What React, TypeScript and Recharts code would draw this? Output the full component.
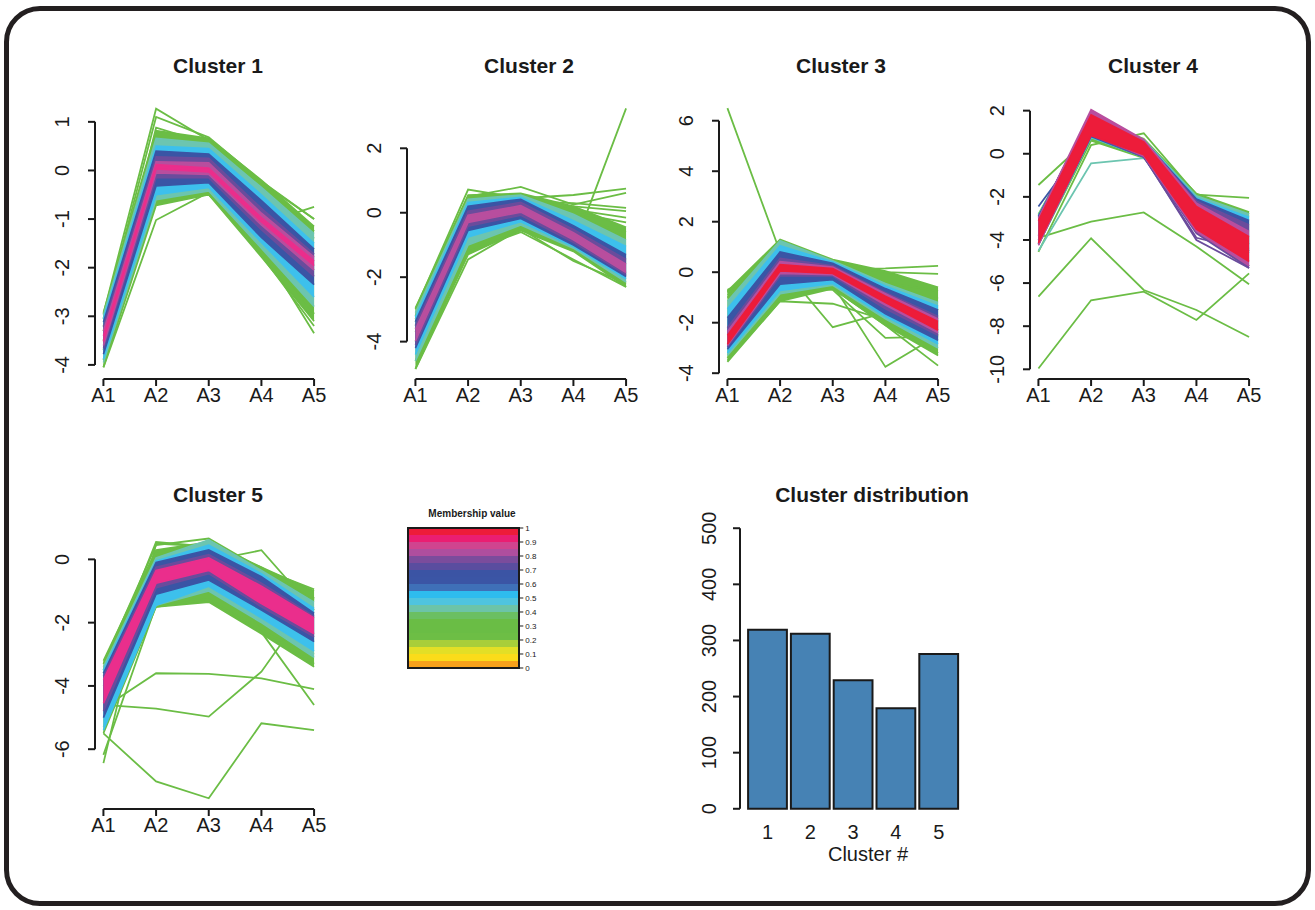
import React from 'react';
import { Area, Bar, BarChart, ComposedChart, ReferenceLine, XAxis, YAxis } from 'recharts';

const FONT = '"Liberation Sans", Arial, Helvetica, sans-serif';
const INK = '#1a1a1a';

// profile axes
const AXIS_POS = [1, 2, 3, 4, 5];
const AXIS_NAMES = ['A1', 'A2', 'A3', 'A4', 'A5'];

// membership colour classes, drawn low -> high
const LEVELS = ['green', 'teal', 'cyan', 'blue', 'purple', 'magenta', 'pink', 'red'];
const LEVEL_COLOR: Record<string, string> = {
  green: '#6BBD45',
  teal: '#6CC5B0',
  cyan: '#3DC0EC',
  blue: '#3A55A5',
  purple: '#6A4C9C',
  magenta: '#B84E9E',
  pink: '#EA2E8C',
  red: '#ED1C3A',
};

type Band = [string, number[], number[]];
type Trace = [string, number[]];

// cluster 1
const c1Bands: Band[] = [
  ['green', [-4.05, -0.72, -0.5, -1.78, -3.1], [-2.92, 0.82, 0.66, -0.2, -1.15]],
  ['teal', [-3.95, -0.6, -0.42, -1.6, -2.8], [-2.98, 0.66, 0.56, -0.35, -1.3]],
  ['cyan', [-3.88, -0.5, -0.35, -1.48, -2.6], [-3.05, 0.5, 0.45, -0.5, -1.5]],
  ['blue', [-3.78, -0.32, -0.25, -1.38, -2.35], [-3.12, 0.4, 0.34, -0.62, -1.62]],
  ['purple', [-3.66, -0.15, -0.15, -1.22, -2.18], [-3.22, 0.28, 0.25, -0.78, -1.72]],
  ['magenta', [-3.6, -0.05, -0.08, -1.12, -2.05], [-3.3, 0.18, 0.16, -0.88, -1.78]],
  ['pink', [-3.52, 0.03, -0.03, -1.06, -1.96], [-3.4, 0.12, 0.05, -0.97, -1.86]],
];
const c1Traces: Trace[] = [
  ['green', [-2.95, 1.27, 0.62, -0.3, -1.25]],
  ['green', [-3.05, 1.1, 0.68, -0.22, -1.0]],
  ['green', [-3.5, 0.88, 0.55, -0.5, -1.4]],
  ['green', [-3.3, 0.7, 0.45, -1.1, -0.75]],
  ['green', [-4.05, -1.02, -0.45, -1.6, -3.35]],
  ['green', [-3.9, -0.65, -0.38, -1.75, -3.2]],
  ['green', [-3.7, -0.55, -0.5, -1.5, -2.95]],
  ['green', [-3.2, -0.3, 0.6, -0.25, -1.0]],
];

// cluster 2
const c2Bands: Band[] = [
  ['green', [-4.85, -1.3, -0.55, -1.2, -2.3], [-2.95, 0.55, 0.6, 0.2, -0.45]],
  ['teal', [-4.6, -1.0, -0.38, -1.1, -2.15], [-3.1, 0.42, 0.55, -0.05, -0.85]],
  ['cyan', [-4.4, -0.75, -0.28, -1.05, -2.05], [-3.25, 0.32, 0.48, -0.25, -1.05]],
  ['blue', [-4.2, -0.55, -0.18, -1.0, -1.98], [-3.38, 0.2, 0.42, -0.4, -1.3]],
  ['purple', [-4.1, -0.42, -0.08, -0.92, -1.92], [-3.5, 0.05, 0.32, -0.52, -1.45]],
  ['magenta', [-3.98, -0.3, 0.02, -0.84, -1.86], [-3.62, -0.08, 0.22, -0.62, -1.6]],
];
const c2Traces: Trace[] = [
  ['green', [-4.0, -0.5, 0.2, -1.1, 3.24]],
  ['green', [-3.0, 0.72, 0.45, 0.55, 0.75]],
  ['green', [-3.2, 0.5, 0.8, 0.25, 0.62]],
  ['green', [-4.85, -1.45, -0.5, -1.5, -2.2]],
  ['green', [-4.6, -1.2, -0.6, -1.45, -2.3]],
  ['green', [-3.3, 0.3, 0.35, 0.3, 0.15]],
  ['green', [-3.6, -0.2, 0.1, 0.2, 0.05]],
  ['green', [-3.4, 0.1, 0.2, 0.0, -0.3]],
  ['green', [-3.5, 0.0, 0.3, 0.1, -0.15]],
  ['green', [-3.7, -0.4, 0.0, -0.2, -0.6]],
];

// cluster 3
const c3Bands: Band[] = [
  ['green', [-3.5, -1.15, -0.65, -2.1, -3.3], [-0.75, 1.3, 0.5, 0.05, -0.6]],
  ['teal', [-3.3, -0.85, -0.52, -1.85, -3.0], [-1.15, 1.25, 0.45, -0.45, -1.2]],
  ['cyan', [-3.2, -0.72, -0.45, -1.75, -2.85], [-1.45, 1.05, 0.4, -0.55, -1.35]],
  ['blue', [-3.05, -0.48, -0.3, -1.65, -2.7], [-1.8, 0.8, 0.35, -0.65, -1.5]],
  ['purple', [-2.95, -0.15, -0.15, -1.45, -2.5], [-2.2, 0.55, 0.25, -0.8, -1.75]],
  ['magenta', [-2.9, -0.05, -0.1, -1.3, -2.4], [-2.35, 0.42, 0.2, -0.85, -1.85]],
  ['red', [-2.85, 0.05, -0.05, -1.2, -2.3], [-2.5, 0.3, 0.15, -0.95, -1.95]],
];
const c3Traces: Trace[] = [
  ['green', [6.5, 0.8, 0.4, -0.5, -1.5]],
  ['green', [-0.7, 0.3, -2.18, -1.6, -1.0]],
  ['green', [-1.0, -0.8, -0.5, -3.75, -2.5]],
  ['green', [-0.8, 0.2, 0.1, 0.15, 0.25]],
  ['green', [-1.0, 0.5, 0.3, 0.0, -0.07]],
  ['green', [-3.4, -0.6, -0.7, -2.6, -2.55]],
  ['green', [-0.75, -0.9, -0.65, -2.1, -3.7]],
  ['green', [-3.55, -1.15, -1.25, -1.9, -3.2]],
  ['green', [-0.9, 0.1, 0.05, -0.4, -0.75]],
];

// cluster 4
const c4Bands: Band[] = [
  ['green', [-4.2, 0.6, -0.2, -3.0, -4.2], [-2.8, 1.6, 0.7, -1.85, -2.7]],
  ['teal', [-4.2, 0.75, -0.15, -3.1, -4.4], [-2.85, 1.7, 0.65, -1.95, -2.8]],
  ['cyan', [-4.2, 0.78, -0.15, -3.2, -4.6], [-2.9, 1.75, 0.62, -2.05, -2.95]],
  ['blue', [-4.2, 0.8, -0.15, -3.5, -5.2], [-2.9, 1.8, 0.6, -2.1, -3.1]],
  ['purple', [-4.2, 0.85, -0.15, -3.7, -5.3], [-2.95, 1.9, 0.6, -2.2, -3.3]],
  ['magenta', [-4.25, 0.9, -0.1, -3.6, -5.2], [-3.0, 2.05, 0.65, -2.3, -3.6]],
  ['red', [-4.15, 0.85, -0.05, -3.5, -5.0], [-3.1, 1.8, 0.55, -2.45, -3.85]],
];
const c4Traces: Trace[] = [
  ['green', [-1.45, 0.8, 0.3, -2.2, -2.8]],
  ['green', [-4.55, 0.4, 0.95, -1.9, -2.05]],
  ['teal', [-4.5, -0.44, -0.2, -2.3, -2.9]],
  ['blue', [-2.45, 0.85, -0.1, -3.5, -4.5]],
  ['purple', [-3.8, 0.9, -0.1, -4.0, -5.3]],
  ['purple', [-4.0, 1.0, -0.15, -3.9, -4.5]],
  ['green', [-3.9, -3.15, -2.72, -4.3, -6.05]],
  ['green', [-6.63, -3.92, -6.32, -7.25, -8.5]],
  ['green', [-9.96, -6.8, -6.4, -7.71, -5.55]],
];

// cluster 5
const c5Bands: Band[] = [
  ['green', [-5.5, -1.5, -1.35, -2.35, -3.4], [-3.2, 0.3, 0.55, -0.25, -1.0]],
  ['teal', [-5.3, -1.45, -1.0, -2.0, -3.1], [-3.4, 0.05, 0.62, -0.35, -1.35]],
  ['cyan', [-5.4, -1.45, -0.85, -1.85, -2.9], [-3.5, -0.05, 0.45, -0.45, -1.55]],
  ['blue', [-5.0, -1.1, -0.65, -1.6, -2.6], [-3.6, -0.1, 0.3, -0.55, -1.7]],
  ['purple', [-4.8, -0.9, -0.45, -1.5, -2.45], [-3.7, -0.25, 0.15, -0.75, -1.8]],
  ['pink', [-4.55, -0.75, -0.35, -1.4, -2.35], [-3.8, -0.35, 0.05, -0.85, -1.85]],
];
const c5Traces: Trace[] = [
  ['green', [-4.7, -3.6, -3.62, -3.76, -4.1]],
  ['green', [-4.6, -4.72, -4.97, -3.55, -1.2]],
  ['green', [-5.5, -7.02, -7.55, -5.18, -5.4]],
  ['green', [-6.44, 0.5, 0.4, -2.3, -4.6]],
  ['green', [-6.18, -1.45, -1.3, -2.2, -3.3]],
  ['green', [-3.5, 0.2, -0.05, 0.29, -1.6]],
  ['green', [-3.3, 0.45, 0.66, -0.3, -0.95]],
  ['green', [-3.6, 0.55, 0.4, -0.25, -1.3]],
  ['green', [-4.0, -1.5, -1.25, -2.3, -3.0]],
];

// cluster distribution
const CLUSTER_IDS = [1, 2, 3, 4, 5];
const CLUSTER_SIZES = [319, 312, 229, 179, 276];
const COUNT_TICKS = [0, 100, 200, 300, 400, 500];

// membership colour key, bottom (0) to top (1), 0.05 per step
const MEMBERSHIP_COLORS = [
  '#F8A11B', '#FBDC1A', '#E3DF26', '#A8CE3A', '#6DBE45',
  '#6ABD45', '#6ABD45', '#6BBF62', '#6CC4A8', '#4FC4DF',
  '#2EBCEE', '#3F70B8', '#3B55A5', '#3B54A4', '#5A4D9F',
  '#7B4C9C', '#AF4E9E', '#D0448F', '#EA1E72', '#ED1C3A',
];
const MEMBERSHIP_STEP = 0.05;
const MEMBERSHIP_TICKS = [0, 0.1, 0.2, 0.3, 0.4, 0.5, 0.6, 0.7, 0.8, 0.9, 1];

const PLOT_W = 227.5;
const PLOT_H = 280;
const Y_AXIS_W = 70;
const X_AXIS_H = 40;
const PAD_TOP = 20;

function YTick(props: any) {
  const { x, y, payload, shift = 17, size = 20 } = props;
  const bx = x - shift;
  return (
    <text x={bx} y={y} transform={`rotate(-90 ${bx} ${y})`} textAnchor="middle" fontSize={size} fontFamily={FONT} fill={INK}>
      {String(payload.value)}
    </text>
  );
}

function XTick(props: any) {
  const { x, y, payload, names, size = 20 } = props;
  const label = names ? names[payload.value - 1] : String(payload.value);
  return (
    <text x={x} y={y} dy="0.71em" textAnchor="middle" fontSize={size} fontFamily={FONT} fill={INK}>
      {label}
    </text>
  );
}

interface PanelProps {
  left: number;
  top: number;
  domain: [number, number];
  ticks: number[];
  bands: Band[];
  traces: Trace[];
}

function ProfilePanel({ left, top, domain, ticks, bands, traces }: PanelProps) {
  const data = AXIS_POS.map((x, i) => {
    const row: Record<string, any> = { x };
    bands.forEach((b, k) => {
      row[`b${k}`] = [b[1][i], b[2][i]];
    });
    traces.forEach((t, k) => {
      row[`t${k}`] = t[1][i];
    });
    return row;
  });

  const layers: React.ReactNode[] = [];
  LEVELS.forEach((level) => {
    bands.forEach((b, k) => {
      if (b[0] !== level) return;
      layers.push(
        <Area
          key={`b${k}`}
          dataKey={`b${k}`}
          type="linear"
          stroke={LEVEL_COLOR[level]}
          strokeWidth={1.6}
          fill={LEVEL_COLOR[level]}
          fillOpacity={1}
          dot={false}
          activeDot={false}
          isAnimationActive={false}
        />
      );
    });
    traces.forEach((t, k) => {
      if (t[0] !== level) return;
      layers.push(
        <Area
          key={`t${k}`}
          dataKey={`t${k}`}
          type="linear"
          stroke={LEVEL_COLOR[level]}
          strokeWidth={1.8}
          fill="none"
          dot={false}
          activeDot={false}
          isAnimationActive={false}
        />
      );
    });
  });

  const xDomain: [number, number] = [0.84, 5.16];

  return (
    <div style={{ position: 'absolute', left: left - Y_AXIS_W, top: top - PAD_TOP }}>
      <ComposedChart
        width={Y_AXIS_W + PLOT_W + 10}
        height={PAD_TOP + PLOT_H + X_AXIS_H}
        data={data}
        margin={{ top: PAD_TOP, right: 10, bottom: 0, left: 0 }}
      >
        <XAxis
          type="number"
          dataKey="x"
          domain={xDomain}
          allowDataOverflow
          ticks={AXIS_POS}
          interval={0}
          axisLine={false}
          tickLine={{ stroke: INK, strokeWidth: 2 }}
          tickSize={7}
          tickMargin={2}
          height={X_AXIS_H}
          tick={<XTick names={AXIS_NAMES} />}
        />
        <YAxis
          type="number"
          domain={domain}
          allowDataOverflow
          ticks={ticks}
          interval={0}
          axisLine={false}
          tickLine={{ stroke: INK, strokeWidth: 2 }}
          tickSize={7}
          tickMargin={2}
          width={Y_AXIS_W}
          tick={<YTick shift={17} />}
        />
        {layers}
        <ReferenceLine
          segment={[{ x: xDomain[0], y: ticks[0] }, { x: xDomain[0], y: ticks[ticks.length - 1] }]}
          stroke={INK}
          strokeWidth={2}
          ifOverflow="visible"
        />
        <ReferenceLine
          segment={[{ x: AXIS_POS[0], y: domain[0] }, { x: AXIS_POS[AXIS_POS.length - 1], y: domain[0] }]}
          stroke={INK}
          strokeWidth={2}
          ifOverflow="visible"
        />
      </ComposedChart>
    </div>
  );
}

function DistributionChart() {
  const data = CLUSTER_IDS.map((id, i) => ({ id, count: CLUSTER_SIZES[i] }));
  const plotW = 260;
  const plotH = 303;
  const xDomain: [number, number] = [0.3575, 6.432];
  return (
    <div style={{ position: 'absolute', left: 740 - Y_AXIS_W, top: 516.5 - PAD_TOP }}>
      <BarChart
        width={Y_AXIS_W + plotW + 10}
        height={PAD_TOP + plotH + 50}
        data={data}
        margin={{ top: PAD_TOP, right: 10, bottom: 0, left: 0 }}
      >
        <XAxis
          type="number"
          dataKey="id"
          domain={xDomain}
          allowDataOverflow
          ticks={CLUSTER_IDS}
          interval={0}
          axisLine={false}
          tickLine={false}
          tickSize={0}
          tickMargin={5}
          height={50}
          tick={<XTick />}
        />
        <YAxis
          type="number"
          domain={[-20, 520]}
          allowDataOverflow
          ticks={COUNT_TICKS}
          interval={0}
          axisLine={false}
          tickLine={{ stroke: INK, strokeWidth: 2 }}
          tickSize={7}
          tickMargin={2}
          width={Y_AXIS_W}
          tick={<YTick shift={15} />}
        />
        <Bar dataKey="count" barSize={38.8} fill="#4682B4" stroke={INK} strokeWidth={2} isAnimationActive={false} />
        <ReferenceLine
          segment={[{ x: xDomain[0], y: COUNT_TICKS[0] }, { x: xDomain[0], y: COUNT_TICKS[COUNT_TICKS.length - 1] }]}
          stroke={INK}
          strokeWidth={2}
          ifOverflow="visible"
        />
      </BarChart>
    </div>
  );
}

function MembershipKey() {
  const row: Record<string, any> = { name: 'm' };
  MEMBERSHIP_COLORS.forEach((_, k) => {
    row[`s${k}`] = MEMBERSHIP_STEP;
  });
  const left = 407.7;
  const top = 528.3;
  const w = 111.3;
  const h = 140;
  const pad = 8;
  return (
    <>
      <div style={{ position: 'absolute', left, top: top - pad }}>
        <BarChart
          width={w + 30}
          height={h + 2 * pad}
          data={[row]}
          margin={{ top: pad, right: 0, bottom: pad, left: 0 }}
          barCategoryGap={0}
        >
          <XAxis dataKey="name" hide />
          <YAxis
            orientation="right"
            type="number"
            domain={[0, 1]}
            ticks={MEMBERSHIP_TICKS}
            interval={0}
            axisLine={false}
            tickLine={{ stroke: INK, strokeWidth: 1 }}
            tickSize={4}
            tickMargin={2}
            width={30}
            tick={{ fontSize: 8, fontFamily: FONT, fill: INK, textAnchor: 'start' }}
          />
          {MEMBERSHIP_COLORS.map((c, k) => (
            <Bar key={k} dataKey={`s${k}`} stackId="m" fill={c} isAnimationActive={false} />
          ))}
        </BarChart>
      </div>
      <div
        style={{
          position: 'absolute',
          left: left - 1,
          top: top - 1,
          width: w + 2,
          height: h + 2,
          border: `2px solid ${INK}`,
          boxSizing: 'border-box',
          pointerEvents: 'none',
        }}
      />
    </>
  );
}

export default function App() {
  return (
    <div style={{ position: 'absolute', left: 0, top: 0, width: 1315, height: 910, background: '#fff', fontFamily: FONT }}>
      <div
        style={{
          position: 'absolute',
          left: 4,
          top: 6,
          width: 1307,
          height: 900,
          border: '5px solid #231F20',
          borderRadius: 36,
          boxSizing: 'border-box',
        }}
      />
      <ProfilePanel left={94.8} top={99} domain={[-4.29, 1.47]} ticks={[-4, -3, -2, -1, 0, 1]} bands={c1Bands} traces={c1Traces} />
      <ProfilePanel left={406.7} top={99} domain={[-5.16, 3.53]} ticks={[-4, -2, 0, 2]} bands={c2Bands} traces={c2Traces} />
      <ProfilePanel left={719.1} top={99} domain={[-4.23, 6.86]} ticks={[-4, -2, 0, 2, 4, 6]} bands={c3Bands} traces={c3Traces} />
      <ProfilePanel left={1030.1} top={99} domain={[-10.45, 2.54]} ticks={[-10, -8, -6, -4, -2, 0, 2]} bands={c4Bands} traces={c4Traces} />
      <ProfilePanel left={94.8} top={529} domain={[-7.89, 0.96]} ticks={[-6, -4, -2, 0]} bands={c5Bands} traces={c5Traces} />
      <MembershipKey />
      <DistributionChart />
      <svg width={1315} height={910} style={{ position: 'absolute', left: 0, top: 0, pointerEvents: 'none' }}>
        <g fontFamily={FONT} fill={INK} fontWeight="bold" textAnchor="middle" fontSize={21}>
          <text x={218} y={73}>Cluster 1</text>
          <text x={529} y={73}>Cluster 2</text>
          <text x={841} y={73}>Cluster 3</text>
          <text x={1153} y={73}>Cluster 4</text>
          <text x={218} y={502}>Cluster 5</text>
          <text x={872} y={502}>Cluster distribution</text>
          <text x={472} y={516.5} fontSize={10}>Membership value</text>
        </g>
        <text x={868} y={861} fontFamily={FONT} fill={INK} fontSize={20} textAnchor="middle">
          Cluster #
        </text>
      </svg>
    </div>
  );
}
